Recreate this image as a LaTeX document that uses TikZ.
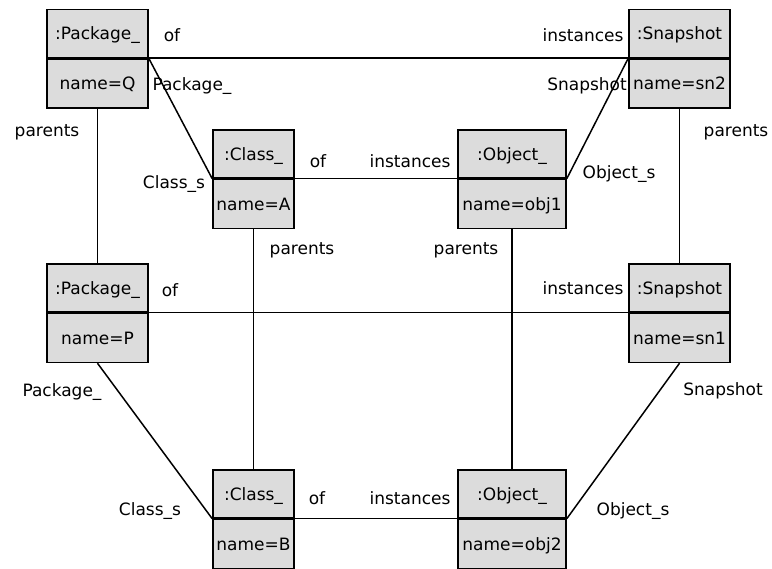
\documentclass[tikz,border=0pt]{standalone}
\usepackage{fontspec}
\setmainfont{DejaVu Sans}
\usetikzlibrary{positioning}
\definecolor{boxgray}{RGB}{220,220,220}
\tikzset{
  headbox/.style={draw, fill=boxgray, minimum height=48pt, inner sep=0pt, text height=14pt, text depth=1pt},
  namebox/.style={headbox, minimum height=49pt},
  role/.style={inner sep=0pt, text height=12pt, text depth=3pt},
  link/.style={draw, line width=1.5pt}
}
\begin{document}
\begin{tikzpicture}[x=1pt,y=-1pt,line width=1.5pt,font=\fontsize{17}{20}\selectfont]
\fill[white] (0,0) rectangle (772,569);
\useasboundingbox (0,0) rectangle (772,569);
\node[headbox, minimum width=101pt] (pkgq) at (97.5,33.5) {:Package\_};
\node[namebox, minimum width=101pt, below=0pt of pkgq] (pkgqn) {name=Q};
\node[headbox, minimum width=101pt] (snap2) at (679.5,33.5) {:Snapshot};
\node[namebox, minimum width=101pt, below=0pt of snap2] (snap2n) {name=sn2};
\node[headbox, minimum width=81pt] (clsa) at (253.5,154) {:Class\_};
\node[namebox, minimum width=81pt, below=0pt of clsa] (clsan) {name=A};
\node[headbox, minimum width=108pt] (obja) at (512,154) {:Object\_};
\node[namebox, minimum width=108pt, below=0pt of obja] (objan) {name=obj1};
\node[headbox, minimum width=101pt] (pkgp) at (97.5,288) {:Package\_};
\node[namebox, minimum width=101pt, below=0pt of pkgp] (pkgpn) {name=P};
\node[headbox, minimum width=101pt] (snap1) at (679.5,288) {:Snapshot};
\node[namebox, minimum width=101pt, below=0pt of snap1] (snap1n) {name=sn1};
\node[headbox, minimum width=81pt] (clsb) at (253.5,494) {:Class\_};
\node[namebox, minimum width=81pt, below=0pt of clsb] (clsbn) {name=B};
\node[headbox, minimum width=108pt] (objb) at (512,494) {:Object\_};
\node[namebox, minimum width=108pt, below=0pt of objb] (objbn) {name=obj2};
\draw[link] (pkgq.south east) -- (snap2.south west);
\draw[link] (pkgq.south east) -- (clsa.south west);
\draw[link] (snap2.south west) -- (obja.south east);
\draw[link] (clsa.south east) -- (obja.south west);
\draw[link] (pkgqn.south) -- (pkgp.north);
\draw[link] (snap2n.south) -- (snap1.north);
\draw[link] (clsan.south) -- (clsb.north);
\draw[link] (objan.south) -- (objb.north);
\draw[link] (pkgp.south east) -- (snap1.south west);
\draw[link] (pkgpn.south) -- (clsb.south west);
\draw[link] (snap1n.south) -- (objb.south east);
\draw[link] (clsb.south east) -- (objb.south west);
\node[role] (ofq) at (172,37) {of};
\node[role] (instsn2) at (583,37) {instances};
\node[role] (pkgq-r) at (192,86) {Package\_};
\node[role] (snap2-r) at (587,86) {Snapshot};
\node[role] (parq) at (47,132) {parents};
\node[role] (parsn2) at (736,132) {parents};
\node[role] (clsa-r) at (174,184) {Class\_s};
\node[role] (ofa) at (318,163) {of};
\node[role] (insta) at (410,163) {instances};
\node[role] (obja-r) at (619,174) {Object\_s};
\node[role] (para) at (302,250) {parents};
\node[role] (parobja) at (466,250) {parents};
\node[role] (ofp) at (170,292) {of};
\node[role] (instsn1) at (583,290) {instances};
\node[role] (pkgp-r) at (62,392) {Package\_};
\node[role] (snap1-r) at (723,391) {Snapshot};
\node[role] (clsb-r) at (150,511) {Class\_s};
\node[role] (ofb) at (317,500) {of};
\node[role] (instb) at (410,500) {instances};
\node[role] (objb-r) at (633,511) {Object\_s};
\end{tikzpicture}
\end{document}
